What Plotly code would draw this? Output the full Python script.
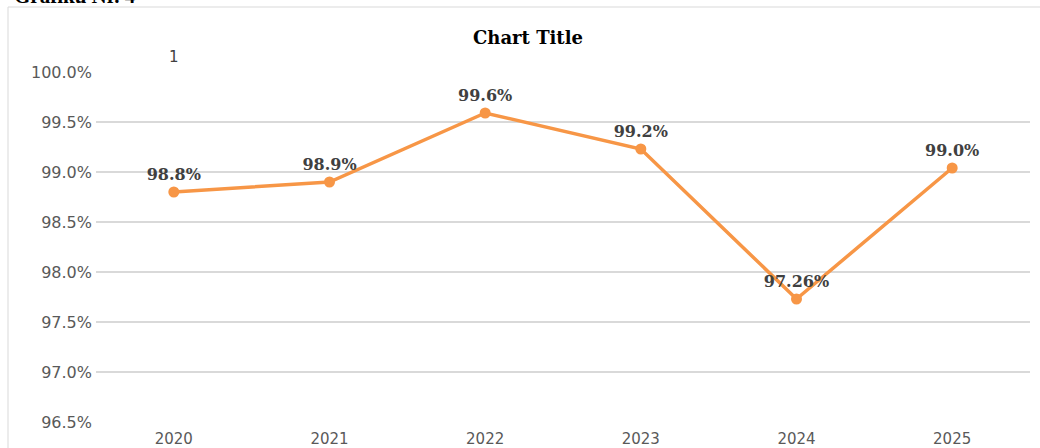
import plotly.graph_objects as go

years = ["2020", "2021", "2022", "2023", "2024", "2025"]
values = [98.80, 98.90, 99.59, 99.23, 97.73, 99.04]
labels = ["98.8%", "98.9%", "99.6%", "99.2%", "97.26%", "99.0%"]
y_ticks = [96.5, 97.0, 97.5, 98.0, 98.5, 99.0, 99.5, 100.0]
y_ticktext = ["96.5%", "97.0%", "97.5%", "98.0%", "98.5%", "99.0%", "99.5%", "100.0%"]

ORANGE = "#F79646"
GRID = "#D9D9D9"

W, H = 1040, 448
L, R, T, B = 96, 10, 72, 26
pw, ph = W - L - R, H - T - B

def px_x(p):
    return (p - L) / pw

def px_y(p):
    return (H - B - p) / ph

fig = go.Figure()
fig.add_trace(go.Scatter(
    x=years, y=values, mode="lines+markers+text",
    line=dict(color=ORANGE, width=3.5),
    marker=dict(color=ORANGE, size=11),
    text=["<b>" + s + "</b>" for s in labels], textposition="top center",
    textfont=dict(family="DejaVu Serif", size=16, color="#404040"),
    cliponaxis=False, showlegend=False, hoverinfo="skip",
))

fig.update_layout(
    width=W, height=H, autosize=False,
    margin=dict(l=L, r=R, t=T, b=B, autoexpand=False),
    paper_bgcolor="white", plot_bgcolor="white",
    title=dict(text="<b>Chart Title</b>", x=528 / W, xref="container", xanchor="center",
               y=1 - 38 / H, yanchor="middle", yref="container",
               font=dict(family="DejaVu Serif", size=18, color="#000000")),
    xaxis=dict(type="category", categoryorder="array", categoryarray=years,
               range=[-0.5, len(years) - 0.5], automargin=False,
               showgrid=False, zeroline=False, showline=False, ticklabelstandoff=6,
               ticks="", tickfont=dict(family="DejaVu Sans", size=15, color="#595959")),
    yaxis=dict(range=[96.5, 100.0], tickmode="array", tickvals=y_ticks, ticktext=y_ticktext,
               automargin=False, ticklabelstandoff=3,
               showgrid=True, gridcolor=GRID, gridwidth=1.5, zeroline=False, showline=False,
               ticks="", tickfont=dict(family="DejaVu Sans", size=16, color="#595959")),
    shapes=[
        dict(type="line", xref="paper", yref="paper", x0=px_x(8), x1=px_x(8),
             y0=px_y(460), y1=px_y(7), line=dict(color=GRID, width=1)),
        dict(type="line", xref="paper", yref="paper", x0=px_x(8), x1=px_x(1050),
             y0=px_y(7), y1=px_y(7), line=dict(color=GRID, width=1)),
    ],
    annotations=[
        dict(text="1", x=px_x(174), xref="paper", y=px_y(57), yref="paper", showarrow=False,
             xanchor="center", yanchor="middle",
             font=dict(family="DejaVu Sans", size=15, color="#404040")),
        dict(text="<b>Grafiku Nr. 4</b>", x=px_x(12), xref="paper", y=px_y(10), yref="paper",
             showarrow=False, xanchor="left", yanchor="bottom",
             font=dict(family="Liberation Serif", size=21, color="#000000")),
    ],
)

fig.write_html("out.html", config={"displayModeBar": False},
               post_script="document.body.style.margin='0';")
